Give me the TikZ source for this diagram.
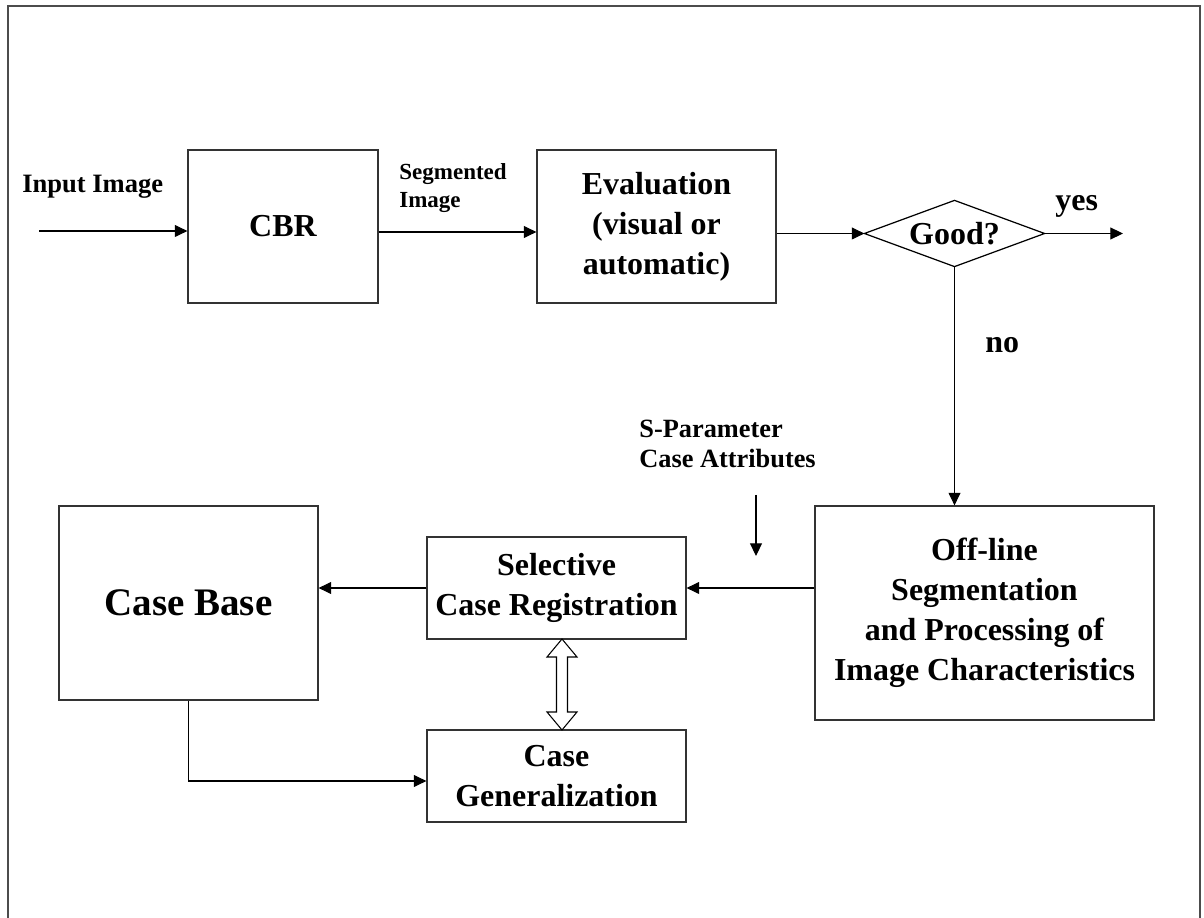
\documentclass[tikz,border=0pt]{standalone}
\usepackage{fontspec}
\setmainfont{Liberation Serif}
\usetikzlibrary{arrows.meta}
\begin{document}
\begin{tikzpicture}[x=0.02cm,y=-0.02cm,
  box/.style={draw=black!80,line width=0.7pt,inner sep=0pt,align=center,
    font=\bfseries\fontsize{18.2}{22.76}\selectfont},
  lbl/.style={inner sep=0pt,font=\bfseries\fontsize{18.2}{22.76}\selectfont},
  conn/.style={line width=0.6pt,-{Triangle[length=7.2pt,width=6.8pt]}},
  plain/.style={line width=0.6pt}]
\useasboundingbox (0,0) rectangle (1204,918);
\draw[black!70,line width=1pt] (8,940) -- (8,6) -- (1200,6) -- (1200,940);
% boxes
\node[box,minimum width=3.8cm,minimum height=3.06cm] (cbr) at (283,226.5) {CBR};
\node[box,minimum width=4.78cm,minimum height=3.06cm] (eval) at (656.5,226.5) {Evaluation\\(visual or\\automatic)};
\node[box,draw=none,minimum width=3.58cm,minimum height=1.3cm] (good) at (954.5,233.5) {Good?};
\draw[line width=0.7pt] (good.north) -- (good.east) -- (good.south) -- (good.west) -- cycle;
\node[box,minimum width=6.78cm,minimum height=4.28cm] (off) at (984.5,613) {Off-line\\Segmentation\\and Processing of\\Image Characteristics};
\node[box,minimum width=5.18cm,minimum height=2.04cm] (sel) at (556.5,588) {Selective\\Case Registration};
\node[box,minimum width=5.18cm,minimum height=1.84cm] (gen) at (556.5,776) {Case\\Generalization};
\node[box,minimum width=5.18cm,minimum height=3.88cm,font=\bfseries\fontsize{22.2}{26}\selectfont] (cb) at (188.5,603) {Case Base};
% labels
\node[inner sep=0pt,anchor=base west,font=\bfseries\fontsize{15.1}{18}\selectfont] (inlbl) at (22,193) {Input Image};
\node[inner sep=0pt,anchor=north west,align=left,font=\bfseries\fontsize{13.1}{15.9}\selectfont] (seglbl) at (399,163) {Segmented\\Image};
\node[inner sep=0pt,anchor=north west,align=left,font=\bfseries\fontsize{15}{17.1}\selectfont] (splbl) at (639,420) {S-Parameter\\Case Attributes};
\node[lbl,anchor=base west] (yes) at (1055,211) {yes};
\node[lbl,anchor=base west] (no) at (985,353) {no};
% coordinates
\coordinate (in) at (39,231);
\coordinate (r1) at (0,232);
\coordinate (out) at (1123,233.5);
\coordinate (sp1) at (756,495);
\coordinate (sp2) at (756,556);
% connectors
\draw[conn] (in) -- (in -| cbr.west);
\draw[conn] (cbr.east |- r1) -- (eval.west |- r1);
\draw[conn] (eval.east |- good.west) -- (good.west);
\draw[conn] (good.east) -- (out);
\draw[conn] (good.south) -- (good.south |- off.north);
\draw[conn] (off.west |- sel.east) -- (sel.east);
\draw[conn] (sel.west) -- (sel.west -| cb.east);
\draw[conn] (sp1) -- (sp2);
\draw[conn] (cb.south) |- ([yshift=-0.1cm]gen.west);
% hollow double arrow
\draw[line width=0.6pt,fill=white] (562,639) -- (577,657) -- (567.5,657) -- (567.5,712) -- (577,712) -- (562,730)
  -- (547,712) -- (556.5,712) -- (556.5,657) -- (547,657) -- cycle;
\end{tikzpicture}
\end{document}
